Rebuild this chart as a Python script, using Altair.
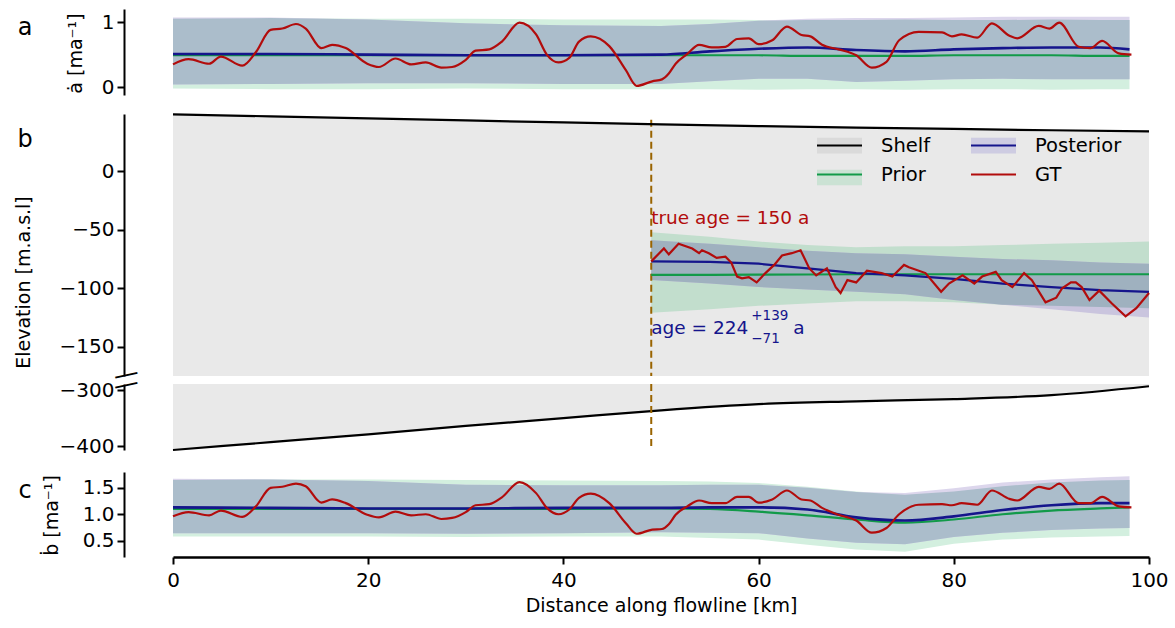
import altair as alt
import pandas as pd

FONT = "DejaVu Sans"

# ---------------- data ----------------
gt_x = [0, 1.6, 3.7, 4.9, 7.1, 8.5, 10.0, 11.2, 12.6, 13.6,
        15.2, 16.3, 17.7, 19.9, 21.1, 22.8, 24.4, 25.9, 27.5, 28.6,
        30.0, 31.0, 32.4, 33.7, 35.5, 37.2, 38.3, 39.5, 40.6, 41.6,
        42.8, 44.7, 46.4, 47.5, 49.1, 50.1, 50.8, 51.5, 52.7, 53.9,
        55.2, 56.6, 57.8, 59.0, 60.0, 61.4, 62.9, 64.4, 65.3, 66.5,
        68.2, 70.0, 71.6, 73.1, 74.4, 76.4, 78.8, 79.8, 80.8, 82.4,
        83.9, 85.7, 86.5, 88.7, 89.8, 90.8, 92.8, 94.0, 95.2, 96.9,
        98.2]
gt_a = [0.35, 0.43, 0.36, 0.47, 0.33, 0.54, 0.88, 0.90, 0.97, 0.90,
        0.60, 0.65, 0.60, 0.36, 0.31, 0.44, 0.35, 0.38, 0.30, 0.31,
        0.42, 0.56, 0.58, 0.70, 0.99, 0.81, 0.50, 0.38, 0.45, 0.70,
        0.78, 0.63, 0.26, 0.02, 0.09, 0.12, 0.21, 0.36, 0.51, 0.65,
        0.61, 0.62, 0.74, 0.75, 0.66, 0.72, 0.93, 0.80, 0.78, 0.65,
        0.58, 0.49, 0.30, 0.39, 0.72, 0.85, 0.84, 0.78, 0.81, 0.76,
        0.98, 0.79, 0.75, 0.94, 0.90, 0.99, 0.62, 0.60, 0.71, 0.52,
        0.50]
gt_c = [0.96, 1.04, 0.98, 1.07, 0.95, 1.15, 1.50, 1.52, 1.58, 1.53,
        1.22, 1.28, 1.21, 0.99, 0.94, 1.05, 0.98, 1.00, 0.91, 0.93,
        1.04, 1.17, 1.19, 1.32, 1.61, 1.40, 1.12, 1.00, 1.09, 1.31,
        1.39, 1.21, 0.83, 0.63, 0.71, 0.72, 0.81, 0.99, 1.15, 1.26,
        1.21, 1.21, 1.33, 1.33, 1.22, 1.28, 1.45, 1.28, 1.26, 1.12,
        0.99, 0.88, 0.65, 0.74, 1.00, 1.18, 1.19, 1.17, 1.21, 1.18,
        1.45, 1.29, 1.26, 1.52, 1.48, 1.58, 1.21, 1.21, 1.33, 1.15,
        1.13]

band_x = [0, 10, 20, 30, 40, 50, 55, 60, 65, 70, 75, 80, 85, 90, 95, 98]
prior_lo_a = [-0.02, -0.03, -0.03, -0.02, -0.03, -0.03, -0.03, -0.04, -0.03, -0.03, -0.04, -0.03, -0.03, -0.04, -0.03, -0.03]
prior_hi_a = [1.05, 1.06, 1.05, 1.05, 1.04, 1.04, 1.04, 1.03, 1.03, 1.03, 1.04, 1.03, 1.03, 1.04, 1.03, 1.03]
post_lo_a = [0.04, 0.05, 0.06, 0.06, 0.05, 0.05, 0.09, 0.13, 0.13, 0.08, 0.10, 0.12, 0.13, 0.12, 0.12, 0.12]
post_hi_a = [1.07, 1.07, 1.04, 0.98, 0.95, 0.94, 0.97, 1.02, 1.05, 1.06, 1.06, 1.07, 1.08, 1.08, 1.08, 1.08]
prior_mean_a = [0.49, 0.49, 0.49, 0.49, 0.49, 0.49, 0.49, 0.49, 0.48, 0.48, 0.48, 0.49, 0.49, 0.49, 0.48, 0.48]
post_mean_a = [0.51, 0.51, 0.50, 0.49, 0.49, 0.50, 0.55, 0.59, 0.61, 0.57, 0.55, 0.58, 0.60, 0.61, 0.61, 0.58]

prior_lo_c = [0.58, 0.58, 0.58, 0.57, 0.58, 0.58, 0.55, 0.52, 0.42, 0.33, 0.29, 0.44, 0.52, 0.56, 0.58, 0.59]
prior_hi_c = [1.65, 1.66, 1.66, 1.65, 1.64, 1.63, 1.62, 1.59, 1.52, 1.43, 1.37, 1.43, 1.53, 1.60, 1.64, 1.65]
post_lo_c = [0.64, 0.64, 0.64, 0.63, 0.64, 0.66, 0.65, 0.64, 0.54, 0.46, 0.43, 0.57, 0.65, 0.70, 0.73, 0.74]
post_hi_c = [1.67, 1.66, 1.63, 1.56, 1.55, 1.55, 1.56, 1.56, 1.50, 1.42, 1.40, 1.49, 1.60, 1.66, 1.70, 1.72]
prior_mean_c = [1.10, 1.10, 1.10, 1.10, 1.10, 1.11, 1.10, 1.05, 0.98, 0.90, 0.84, 0.90, 1.00, 1.07, 1.11, 1.13]
post_mean_c = [1.13, 1.12, 1.11, 1.11, 1.12, 1.12, 1.13, 1.13, 1.09, 0.94, 0.88, 0.96, 1.08, 1.17, 1.21, 1.21]

b_x = [49, 55, 60, 65, 70, 75, 80, 85, 90, 95, 100]
prior_lo_b = [-121, -118, -115, -113, -111, -111, -112, -114, -115, -116, -117]
prior_hi_b = [-52, -56, -60, -63, -65, -64, -64, -63, -62, -61, -60]
post_lo_b = [-93, -96, -99, -101, -103, -105, -110, -114, -118, -122, -125]
post_hi_b = [-59, -62, -65, -68, -70, -71, -73, -75, -76, -78, -79]
prior_mean_b = [-88.5, -88.5, -88.3, -88.2, -88, -88, -88, -88, -88, -88, -88]
post_mean_b = [-77, -77.5, -79, -83, -87, -89, -92, -96, -99, -101.5, -103]

gt_b_x = [49.0, 50.3, 50.8, 51.8, 53.2, 53.9, 54.2, 54.9, 55.7, 56.6, 57.2, 57.8, 58.3, 59.0,
          59.8, 60.7, 61.6, 62.4, 63.4, 64.3, 65.2, 65.9, 67.0, 67.9, 68.4, 69.1, 70.0, 71.1,
          72.6, 73.7, 74.9, 75.4, 77.1, 78.7, 79.5, 80.9, 82.1, 82.9, 84.3, 84.9, 86.0, 87.2,
          88.0, 89.4, 90.5, 91.1, 92.0, 92.5, 93.1, 93.9, 94.9, 96.2, 97.6, 98.7, 100]
gt_b = [-77, -66, -71, -62, -66, -70, -67.5, -70, -74, -73, -78, -90, -91.5, -90.5,
        -95, -87, -80, -72, -70, -67.5, -83, -89, -83, -99, -104, -93, -95, -85,
        -87, -90, -80, -82, -87, -103, -96, -89, -96, -90, -86, -93, -99, -87,
        -93, -112, -108, -100, -95, -95, -99, -110, -102, -113, -124, -117, -104]

shelf_x = [0, 10, 20, 30, 40, 50, 60, 70, 80, 90, 100]
surface = [48.7, 47.0, 45.2, 43.5, 41.8, 40.1, 38.7, 37.4, 36.2, 35.1, 34.2]
bed = [-407, -393, -379, -364, -350, -336, -325, -320, -316, -309, -293]

age_x = 49
true_age_label = "true age = 150 a"
post_age_main = "age = 224"
post_age_plus = "+139"
post_age_minus = "\u221271"

# legend entries fill column by column: (Shelf, Prior) | (Posterior, GT)
legend_order = ["Shelf", "Prior", "Posterior", "GT"]
patch_order = [s + "\u200b" for s in legend_order]   # same widths, separate legend

# ---------------- styling ----------------
C_PRIOR = "#129a49"
C_POST = "#15158c"
C_GT = "#b20c0c"
C_AGE = "#9a6400"
C_SHELF = "#e9e9e9"
W_BANDS = ["#d3efdf", "#dcd6ec", "#abbdcb"]
G_BANDS = ["#c2decd", "#cac5de", "#9fb1bf"]
PATCHES = ["#d5d5d5", "#bfe0cc", "#c4c0e0", "transparent"]

W = 976
H_A, H_BU, H_BL, H_C = 86, 262, 66, 85
OFF = 49
LW = 2.2
DOM_A = [-0.12, 1.2]
DOM_BU = [-175, 49]
DOM_BL = [-407, -289]
DOM_C = [0.19, 1.8]

xscale = alt.Scale(domain=[0, 100], nice=False, zero=False)
X_none = alt.X("x:Q", scale=xscale, axis=None)
X_c = alt.X("x:Q", scale=xscale,
            axis=alt.Axis(values=[0, 20, 40, 60, 80, 100], format="d", labelFlush=False,
                          title="Distance along flowline [km]", titleFontWeight="normal",
                          titleFontSize=19, labelFontSize=20, labelPadding=6,
                          titlePadding=6, domainWidth=2.5, tickWidth=2, tickSize=7))


def yaxis(vals, fmt, title=None, tx=0, ty=0):
    kw = dict(values=vals, format=fmt, offset=OFF, titleFontWeight="normal",
              tickWidth=2, tickSize=7, domainWidth=2, labelPadding=3, labelFlush=False)
    if title is not None:
        kw.update(title=title, titleX=tx, titleY=ty, titleAngle=270,
                  titleAlign="center", titleBaseline="middle")
    else:
        kw.update(title="")
    return alt.Axis(**kw)


def label_mark(txt, px, py, size=24, angle=0):
    return alt.Chart(pd.DataFrame({"t": [txt]})).mark_text(
        font=FONT, fontSize=size, align="center", baseline="middle", color="black",
        angle=angle).encode(text="t:N", x=alt.value(px), y=alt.value(py))


def band_panel(xs, plo, phi, qlo, qhi, pm, qm, gx, gy, ydom, yax, colors, h, xenc, tag):
    df = pd.DataFrame({"x": xs, "prior_lo": plo, "prior_hi": phi, "post_lo": qlo,
                       "post_hi": qhi, "prior_mean": pm, "post_mean": qm})
    gdf = pd.DataFrame({"x": gx, "gt": gy})
    ys = alt.Scale(domain=ydom, nice=False, zero=False)
    base = alt.Chart(df)
    prior = base.mark_area(color=colors[0]).encode(
        x=xenc, y=alt.Y("prior_lo:Q", scale=ys, axis=yax), y2="prior_hi:Q")
    post = base.mark_area(color=colors[1]).encode(
        x=xenc, y=alt.Y("post_lo:Q", scale=ys), y2="post_hi:Q")
    ov = base.transform_calculate(
        ov_lo="max(datum.prior_lo, datum.post_lo)",
        ov_hi="min(datum.prior_hi, datum.post_hi)").mark_area(color=colors[2]).encode(
        x=xenc, y=alt.Y("ov_lo:Q", scale=ys), y2="ov_hi:Q")
    pl = base.mark_line(color=C_PRIOR, strokeWidth=LW, interpolate="monotone").encode(
        x=xenc, y=alt.Y("prior_mean:Q", scale=ys))
    ql = base.mark_line(color=C_POST, strokeWidth=2.6, interpolate="monotone").encode(
        x=xenc, y=alt.Y("post_mean:Q", scale=ys))
    gl = alt.Chart(gdf).mark_line(color=C_GT, strokeWidth=LW, interpolate="monotone").encode(
        x=xenc, y=alt.Y("gt:Q", scale=ys))
    return alt.layer(prior, post, ov, pl, ql, gl,
                     label_mark(tag, -148, 19)).properties(width=W, height=h)


panel_a = band_panel(band_x, prior_lo_a, prior_hi_a, post_lo_a, post_hi_a,
                     prior_mean_a, post_mean_a, gt_x, gt_a, DOM_A,
                     yaxis([0, 1], "d", "\u0227 [ma\u207b\u00b9]", -49, 44),
                     W_BANDS, H_A, X_none, "a")
panel_c = band_panel(band_x, prior_lo_c, prior_hi_c, post_lo_c, post_hi_c,
                     prior_mean_c, post_mean_c, gt_x, gt_c, DOM_C,
                     yaxis([0.5, 1.0, 1.5], ".1f", "\u1e03 [ma\u207b\u00b9]", -73, 43),
                     W_BANDS, H_C, X_c, "c")

# ---------------- panel b (upper) ----------------
ys_bu = alt.Scale(domain=DOM_BU, nice=False, zero=False)
ax_bu = yaxis([0, -50, -100, -150], "d", "Elevation [m.a.s.l]", -101, 168)
shelf_df = pd.DataFrame({"x": shelf_x, "surface": surface, "bed": bed})
bdf = pd.DataFrame({"x": b_x, "prior_lo": prior_lo_b, "prior_hi": prior_hi_b,
                    "post_lo": post_lo_b, "post_hi": post_hi_b})

lines_b = pd.concat([
    pd.DataFrame({"x": shelf_x, "y": surface, "series": "Shelf"}),
    pd.DataFrame({"x": b_x, "y": prior_mean_b, "series": "Prior"}),
    pd.DataFrame({"x": b_x, "y": post_mean_b, "series": "Posterior"}),
    pd.DataFrame({"x": gt_b_x, "y": gt_b, "series": "GT"}),
], ignore_index=True)

LEG = dict(title=None, orient="none", legendX=650, legendY=120, columns=2,
           symbolSize=900, symbolStrokeWidth=2.2, labelFont=FONT, labelFontSize=19.5,
           labelOffset=25, columnPadding=35, rowPadding=3, padding=0)

# hidden squares that only provide the legend's patches (drawn below the shelf fill)
patch_df = pd.DataFrame({"patch": patch_order})
patch_src = alt.Chart(patch_df).mark_square(size=1).encode(
    x=alt.value(300), y=alt.value(150),
    fill=alt.Fill("patch:N", scale=alt.Scale(domain=patch_order, range=PATCHES),
                  legend=alt.Legend(symbolType="M-1.5,-0.52H1.5V0.52H-1.5Z",
                                    symbolStrokeColor="transparent",
                                    labelColor="transparent", **LEG)))

shelf_fill_u = alt.Chart(shelf_df).transform_calculate(
    floor=str(DOM_BU[0])).mark_area(color=C_SHELF).encode(
    x=X_none, y=alt.Y("surface:Q", scale=ys_bu, axis=ax_bu), y2="floor:Q")
bp = alt.Chart(bdf).mark_area(color=G_BANDS[0]).encode(
    x=X_none, y=alt.Y("prior_lo:Q", scale=ys_bu), y2="prior_hi:Q")
bq = alt.Chart(bdf).mark_area(color=G_BANDS[1]).encode(
    x=X_none, y=alt.Y("post_lo:Q", scale=ys_bu), y2="post_hi:Q")
bo = alt.Chart(bdf).transform_calculate(
    ov_lo="max(datum.prior_lo, datum.post_lo)",
    ov_hi="min(datum.prior_hi, datum.post_hi)").mark_area(color=G_BANDS[2]).encode(
    x=X_none, y=alt.Y("ov_lo:Q", scale=ys_bu), y2="ov_hi:Q")
age_df_u = pd.DataFrame({"x": [age_x], "top": [44.0], "bot": [DOM_BU[0]]})
age_u = alt.Chart(age_df_u).mark_rule(color=C_AGE, strokeWidth=2, strokeDash=[7, 4]).encode(
    x=X_none, y=alt.Y("top:Q", scale=ys_bu), y2="bot:Q")
blines = alt.Chart(lines_b).mark_line(strokeWidth=LW).encode(
    x=X_none, y=alt.Y("y:Q", scale=ys_bu),
    stroke=alt.Stroke("series:N",
                      scale=alt.Scale(domain=legend_order,
                                      range=["black", C_PRIOR, C_POST, C_GT]),
                      legend=alt.Legend(symbolType="M-1.5,0H1.5", labelColor="black", **LEG)))

ann_df = pd.DataFrame({"x": [age_x], "y_true": [-40.0], "y_post": [-134.0],
                       "t_true": [true_age_label], "t_main": [post_age_main],
                       "t_plus": [post_age_plus], "t_minus": [post_age_minus], "t_a": ["a"]})
ann = alt.Chart(ann_df)
txt_true = ann.mark_text(font=FONT, fontSize=18.5, color=C_GT, align="left",
                         baseline="middle").encode(
    x=X_none, y=alt.Y("y_true:Q", scale=ys_bu), text="t_true:N")
txt_age = ann.mark_text(font=FONT, fontSize=18.5, color=C_POST, align="left",
                        baseline="middle").encode(
    x=X_none, y=alt.Y("y_post:Q", scale=ys_bu), text="t_main:N")
txt_plus = ann.mark_text(font=FONT, fontSize=13.5, color=C_POST, align="left",
                         baseline="middle", dx=100, dy=-12).encode(
    x=X_none, y=alt.Y("y_post:Q", scale=ys_bu), text="t_plus:N")
txt_minus = ann.mark_text(font=FONT, fontSize=13.5, color=C_POST, align="left",
                          baseline="middle", dx=100, dy=11).encode(
    x=X_none, y=alt.Y("y_post:Q", scale=ys_bu), text="t_minus:N")
txt_a = ann.mark_text(font=FONT, fontSize=18.5, color=C_POST, align="left",
                      baseline="middle", dx=142).encode(
    x=X_none, y=alt.Y("y_post:Q", scale=ys_bu), text="t_a:N")

BREAK = "\u2014"
panel_bu = alt.layer(patch_src, shelf_fill_u, bp, bq, bo, age_u, blines,
                     txt_true, txt_age, txt_plus, txt_minus, txt_a,
                     label_mark("b", -148, 26),
                     label_mark(BREAK, -OFF + 2, H_BU - 2, size=25, angle=348)
                     ).properties(width=W, height=H_BU)

# ---------------- panel b (lower, broken axis) ----------------
ys_bl = alt.Scale(domain=DOM_BL, nice=False, zero=False)
ax_bl = yaxis([-300, -400], "d")
shelf_fill_l = alt.Chart(shelf_df).transform_calculate(
    ceil=str(DOM_BL[1])).mark_area(color=C_SHELF, interpolate="monotone").encode(
    x=X_none, y=alt.Y("bed:Q", scale=ys_bl, axis=ax_bl), y2="ceil:Q")
bed_line = alt.Chart(shelf_df).mark_line(color="black", strokeWidth=LW,
                                          interpolate="monotone").encode(
    x=X_none, y=alt.Y("bed:Q", scale=ys_bl))
age_df_l = pd.DataFrame({"x": [age_x], "top": [DOM_BL[1]], "bot": [DOM_BL[0]]})
age_l = alt.Chart(age_df_l).mark_rule(color=C_AGE, strokeWidth=2, strokeDash=[7, 4]).encode(
    x=X_none, y=alt.Y("top:Q", scale=ys_bl), y2="bot:Q")
panel_bl = alt.layer(shelf_fill_l, bed_line, age_l,
                     label_mark(BREAK, -OFF + 2, 0, size=25, angle=348)
                     ).properties(width=W, height=H_BL)


def spacer(h):
    return alt.Chart(pd.DataFrame({"k": [0]})).mark_point(opacity=0).encode(
        x=alt.value(0), y=alt.value(0)).properties(width=W, height=h)


chart = alt.vconcat(panel_a, spacer(3), panel_bu, panel_bl, spacer(6), panel_c,
                    spacing=8, bounds="flush",
                    padding={"left": 14, "top": 9, "right": 5, "bottom": 5}
                    ).configure_view(stroke=None).configure_axis(
    grid=False, domainColor="black", tickColor="black", labelColor="black",
    titleColor="black", labelFont=FONT, titleFont=FONT, labelFontSize=20,
    titleFontSize=19)

chart.save("out.html", embed_options={"renderer": "svg", "actions": False})
